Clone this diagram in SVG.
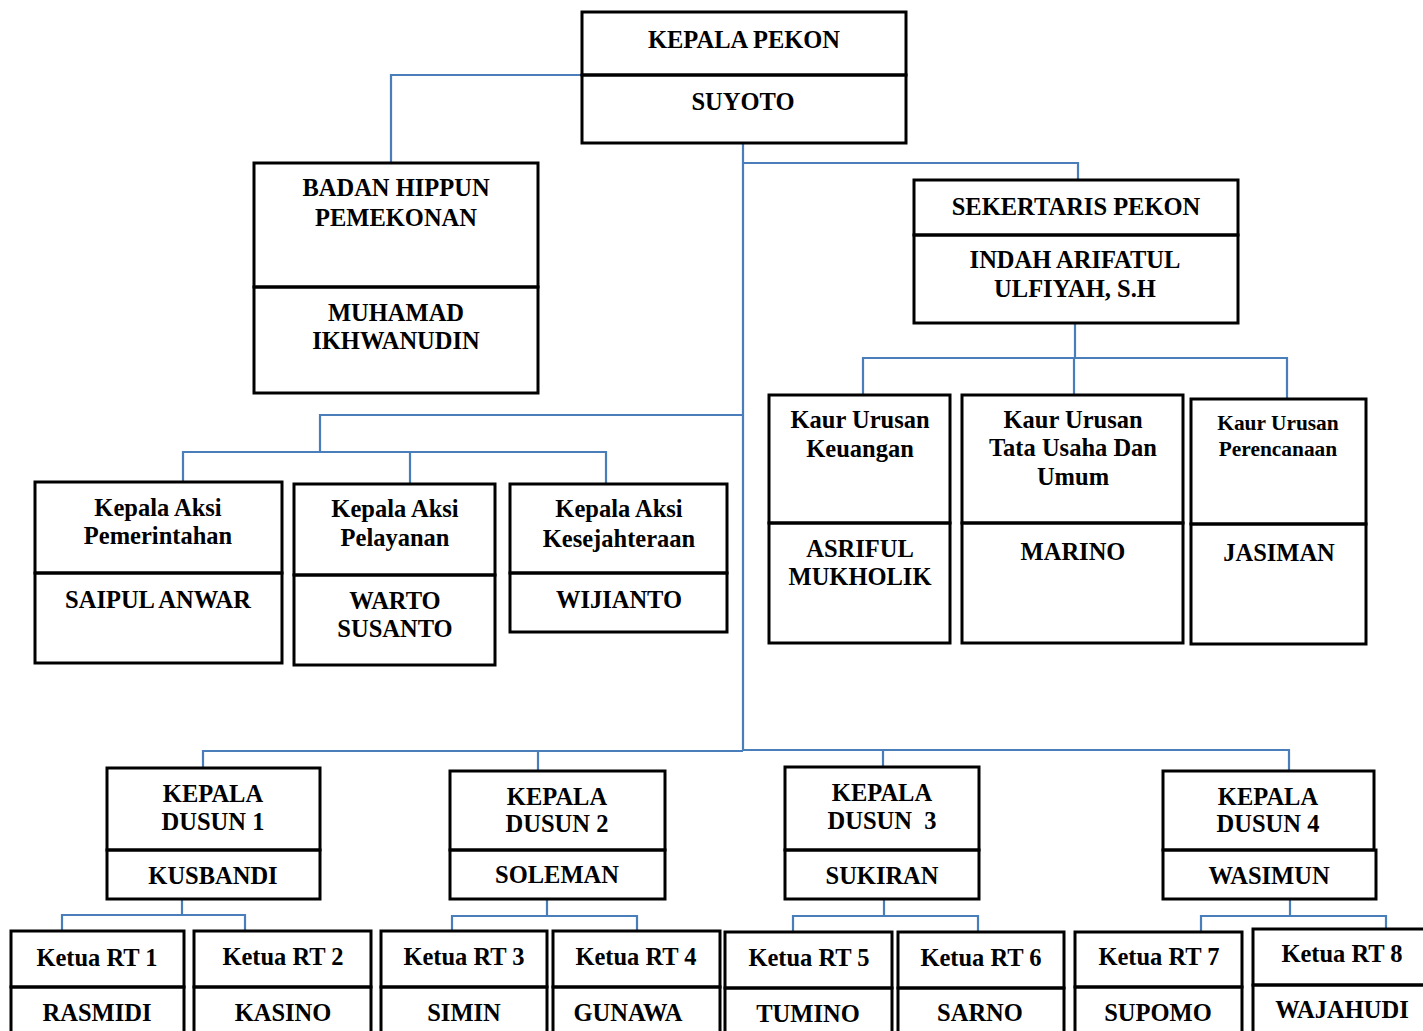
<svg xmlns="http://www.w3.org/2000/svg" width="1423" height="1031" viewBox="0 0 1423 1031">
<style>
.b{fill:none;stroke:#000;stroke-width:3}
.c{fill:none;stroke:#4a7ebb;stroke-width:2.2}
text{font-family:"Liberation Serif","Times New Roman",serif;font-weight:bold;font-size:24.5px;fill:#000;text-anchor:middle}
.s{font-size:21.4px}
</style>
<rect width="1423" height="1031" fill="#fff"/>
<g id="connectors">
<path class="c" d="M582,75H391V163"/>
<path class="c" d="M743,143V750"/>
<path class="c" d="M743,163H1078V180"/>
<path class="c" d="M1075,323V358M863,395V358H1287V398M1074,358V395"/>
<path class="c" d="M743,415H320V452M183,482V452H606V484M410,452V484"/>
<path class="c" d="M203,768V751H743M743,750H1289V771M538,751V770M883,750V767"/>
<path class="c" d="M182,899V915M62,931V915H245V931"/>
<path class="c" d="M547,899V916M452,931V916H637V931"/>
<path class="c" d="M884,899V916M793,931V916H978V931"/>
<path class="c" d="M1290,899V916M1201,931V916H1386V928"/>
</g>
<g id="kepala-pekon">
<rect class="b" x="582" y="12" width="324" height="63"/>
<rect class="b" x="582" y="75" width="324" height="68"/>
<text x="744" y="48">KEPALA PEKON</text>
<text x="743" y="110">SUYOTO</text>
</g>
<g id="badan-hippun">
<rect class="b" x="254" y="163" width="284" height="124"/>
<rect class="b" x="254" y="287" width="284" height="106"/>
<text x="396" y="196">BADAN HIPPUN</text>
<text x="396" y="226">PEMEKONAN</text>
<text x="396" y="321">MUHAMAD</text>
<text x="396" y="349">IKHWANUDIN</text>
</g>
<g id="sekertaris">
<rect class="b" x="914" y="180" width="324" height="55"/>
<rect class="b" x="914" y="235" width="324" height="88"/>
<text x="1076" y="215">SEKERTARIS PEKON</text>
<text x="1075" y="268">INDAH ARIFATUL</text>
<text x="1075" y="297">ULFIYAH, S.H</text>
</g>
<g id="kaur-keuangan">
<rect class="b" x="769" y="395" width="181" height="128"/>
<rect class="b" x="769" y="523" width="181" height="120"/>
<text x="860" y="428">Kaur Urusan</text>
<text x="860" y="457">Keuangan</text>
<text x="860" y="557">ASRIFUL</text>
<text x="860" y="585">MUKHOLIK</text>
</g>
<g id="kaur-tata-usaha">
<rect class="b" x="962" y="395" width="221" height="128"/>
<rect class="b" x="962" y="523" width="221" height="120"/>
<text x="1073" y="428">Kaur Urusan</text>
<text x="1073" y="456">Tata Usaha Dan</text>
<text x="1073" y="485">Umum</text>
<text x="1073" y="560">MARINO</text>
</g>
<g id="kaur-perencanaan">
<rect class="b" x="1191" y="399" width="175" height="125"/>
<rect class="b" x="1191" y="524" width="175" height="120"/>
<text class="s" x="1278" y="430">Kaur Urusan</text>
<text class="s" x="1278" y="456">Perencanaan</text>
<text x="1279" y="561">JASIMAN</text>
</g>
<g id="kasi-pemerintahan">
<rect class="b" x="35" y="482" width="247" height="91"/>
<rect class="b" x="35" y="573" width="247" height="90"/>
<text x="158" y="516">Kepala Aksi</text>
<text x="158" y="544">Pemerintahan</text>
<text x="158" y="608">SAIPUL ANWAR</text>
</g>
<g id="kasi-pelayanan">
<rect class="b" x="294" y="484" width="201" height="91"/>
<rect class="b" x="294" y="575" width="201" height="90"/>
<text x="395" y="517">Kepala Aksi</text>
<text x="395" y="546">Pelayanan</text>
<text x="395" y="609">WARTO</text>
<text x="395" y="637">SUSANTO</text>
</g>
<g id="kasi-kesejahteraan">
<rect class="b" x="510" y="484" width="217" height="89"/>
<rect class="b" x="510" y="573" width="217" height="59"/>
<text x="619" y="517">Kepala Aksi</text>
<text x="619" y="547">Kesejahteraan</text>
<text x="619" y="608">WIJIANTO</text>
</g>
<g id="dusun-1">
<rect class="b" x="107" y="768" width="213" height="82"/>
<rect class="b" x="107" y="850" width="213" height="49"/>
<text x="213" y="802">KEPALA</text>
<text x="213" y="830">DUSUN 1</text>
<text x="213" y="884">KUSBANDI</text>
</g>
<g id="dusun-2">
<rect class="b" x="450" y="771" width="215" height="79"/>
<rect class="b" x="450" y="850" width="215" height="49"/>
<text x="557" y="805">KEPALA</text>
<text x="557" y="832">DUSUN 2</text>
<text x="557" y="883">SOLEMAN</text>
</g>
<g id="dusun-3">
<rect class="b" x="785" y="767" width="194" height="83"/>
<rect class="b" x="785" y="850" width="194" height="49"/>
<text x="882" y="801">KEPALA</text>
<text x="882" y="829" xml:space="preserve">DUSUN  3</text>
<text x="882" y="884">SUKIRAN</text>
</g>
<g id="dusun-4">
<rect class="b" x="1163" y="771" width="211" height="79"/>
<rect class="b" x="1163" y="850" width="213" height="49"/>
<text x="1268" y="805">KEPALA</text>
<text x="1268" y="832">DUSUN 4</text>
<text x="1269" y="884">WASIMUN</text>
</g>
<g id="rt-1">
<rect class="b" x="11" y="931" width="173" height="56"/>
<rect class="b" x="11" y="987" width="173" height="60"/>
<text x="97" y="966">Ketua RT 1</text>
<text x="97" y="1021">RASMIDI</text>
</g>
<g id="rt-2">
<rect class="b" x="194" y="931" width="177" height="56"/>
<rect class="b" x="194" y="987" width="177" height="60"/>
<text x="283" y="965">Ketua RT 2</text>
<text x="283" y="1021">KASINO</text>
</g>
<g id="rt-3">
<rect class="b" x="381" y="931" width="166" height="56"/>
<rect class="b" x="381" y="987" width="166" height="60"/>
<text x="464" y="965">Ketua RT 3</text>
<text x="464" y="1021">SIMIN</text>
</g>
<g id="rt-4">
<rect class="b" x="553" y="931" width="167" height="56"/>
<rect class="b" x="553" y="987" width="167" height="60"/>
<text x="636" y="965">Ketua RT 4</text>
<text x="628" y="1021">GUNAWA</text>
</g>
<g id="rt-5">
<rect class="b" x="725" y="932" width="167" height="56"/>
<rect class="b" x="725" y="988" width="167" height="60"/>
<text x="809" y="966">Ketua RT 5</text>
<text x="808" y="1022">TUMINO</text>
</g>
<g id="rt-6">
<rect class="b" x="898" y="932" width="166" height="56"/>
<rect class="b" x="898" y="988" width="166" height="60"/>
<text x="981" y="966">Ketua RT 6</text>
<text x="980" y="1021">SARNO</text>
</g>
<g id="rt-7">
<rect class="b" x="1075" y="932" width="167" height="55"/>
<rect class="b" x="1075" y="987" width="167" height="60"/>
<text x="1159" y="965">Ketua RT 7</text>
<text x="1158" y="1021">SUPOMO</text>
</g>
<g id="rt-8">
<rect class="b" x="1253" y="929" width="180" height="56"/>
<rect class="b" x="1253" y="985" width="180" height="62"/>
<text x="1342" y="962">Ketua RT 8</text>
<text x="1342" y="1018">WAJAHUDI</text>
</g>
</svg>
